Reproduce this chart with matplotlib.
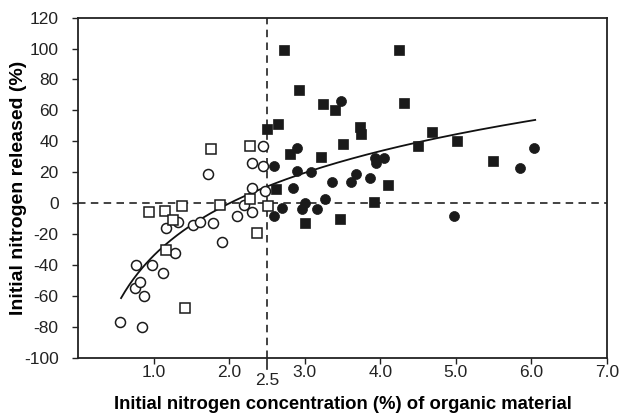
import numpy as np
import matplotlib
matplotlib.use("Agg")
import matplotlib.pyplot as plt

plt.rcParams['font.family'] = ['Liberation Sans', 'DejaVu Sans']
plt.rcParams['axes.unicode_minus'] = False

# Low-N materials (open symbols)
open_circle_x = [0.55, 0.85, 0.75, 0.82, 0.87, 0.77, 0.98, 1.13, 1.28, 1.17, 1.32, 1.52,
                 1.62, 1.79, 1.91, 1.72, 2.10, 2.20, 2.30, 2.30, 2.47, 2.30, 2.45, 2.45]
open_circle_y = [-77, -80, -55, -51, -60, -40, -40, -45, -32, -16, -12, -14,
                 -12, -13, -25, 19, -8, -1, -6, 10, 8, 26, 24, 37]

open_square_x = [0.94, 1.15, 1.37, 1.26, 1.17, 1.41, 1.76, 1.88, 2.28, 2.27, 2.37, 2.51]
open_square_y = [-6, -5, -2, -11, -30, -68, 35, -1, 3, 37, -19, -2]

# High-N materials (filled symbols)
filled_square_x = [2.72, 2.93, 3.24, 3.40, 2.50, 2.64, 4.25, 4.31, 3.73, 3.75, 3.51,
                   4.50, 4.69, 5.02, 5.49, 4.10, 3.92, 2.80, 3.21, 2.62, 3.00, 3.47]
filled_square_y = [99, 73, 64, 60, 48, 51, 99, 65, 49, 45, 38,
                   37, 46, 40, 27, 12, 1, 32, 30, 9, -13, -10]

filled_circle_x = [3.48, 2.90, 2.59, 2.90, 3.08, 3.36, 3.61, 3.68, 3.86, 3.93, 4.05,
                   3.95, 5.85, 6.03, 4.98, 2.84, 3.01, 3.27, 2.70, 2.96, 3.16, 2.59]
filled_circle_y = [66, 36, 24, 21, 20, 14, 14, 19, 16, 29, 29,
                   26, 23, 36, -8, 10, 0, 3, -3, -4, -4, -8]

# Logarithmic trend: y = fit_a + fit_b * ln(x)
fit_a = -34.0
fit_b = 48.8
fit_range = (0.57, 6.05)

critical_n = 2.5
x_ticks = [1, 2, 3, 4, 5, 6, 7]
x_tick_labels = ['1.0', '2.0', '3.0', '4.0', '5.0', '6.0', '7.0']
y_ticks = list(range(-100, 121, 20))

fig = plt.figure(figsize=(6.19, 4.18), dpi=100)
ax = fig.add_axes([0.126, 0.1443, 0.8546, 0.8134])

ax.set_xlim(0, 7)
ax.set_ylim(-100, 120)

dash = (0, (4.5, 3.2))
ax.axhline(0, color='#222222', lw=1.2, linestyle=dash, zorder=1)
ax.axvline(critical_n, color='#222222', lw=1.2, linestyle=dash, zorder=1)
# short dashed extension of the threshold line below the x axis
ax.plot([critical_n, critical_n], [-101, -107], color='#222222', lw=1.2,
        clip_on=False, zorder=1)

xf = np.linspace(fit_range[0], fit_range[1], 200)
ax.plot(xf, fit_a + fit_b * np.log(xf), color='#111111', lw=1.3, zorder=2)

ms_sq = 7.6
ms_ci = 7.2
ax.plot(open_circle_x, open_circle_y, 'o', ms=ms_ci, mfc='white', mec='#1a1a1a',
        mew=1.1, linestyle='none', zorder=3)
ax.plot(open_square_x, open_square_y, 's', ms=ms_sq, mfc='white', mec='#1a1a1a',
        mew=1.1, linestyle='none', zorder=3)
ax.plot(filled_square_x, filled_square_y, 's', ms=ms_sq, mfc='#1a1a1a', mec='#1a1a1a',
        mew=0.5, linestyle='none', zorder=4)
ax.plot(filled_circle_x, filled_circle_y, 'o', ms=ms_ci, mfc='#1a1a1a', mec='#1a1a1a',
        mew=0.5, linestyle='none', zorder=4)

ax.set_xticks(x_ticks)
ax.set_xticklabels(x_tick_labels)
ax.set_yticks(y_ticks)
ax.tick_params(direction='out', length=4, width=1.0, labelsize=12.5, colors='#222222')
ax.tick_params(axis='x', pad=1.5)
ax.tick_params(axis='y', pad=10)

ax.text(critical_n, -110, '2.5', ha='center', va='top', fontsize=12.5, color='#222222')

for s in ax.spines.values():
    s.set_linewidth(1.3)
    s.set_color('#222222')

ax.set_xlabel('Initial nitrogen concentration (%) of organic material',
              fontsize=13.3, fontweight='bold', labelpad=11)
ax.set_ylabel('Initial nitrogen released (%)', fontsize=14, fontweight='bold', labelpad=-2)

fig.savefig('out.png', dpi=100)
